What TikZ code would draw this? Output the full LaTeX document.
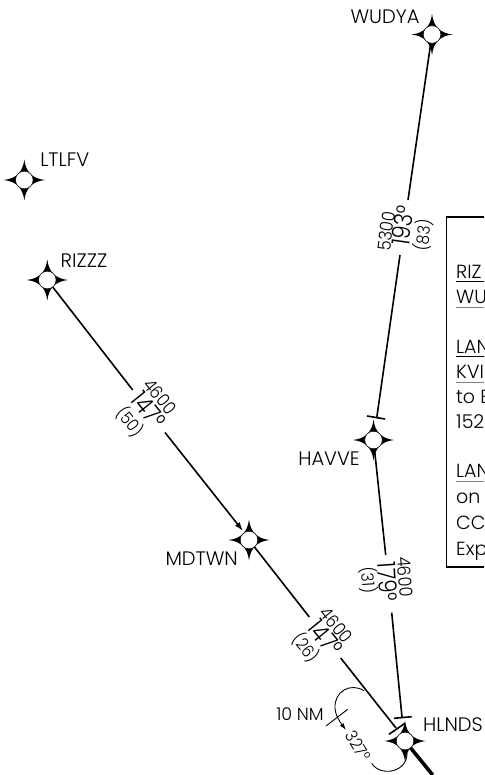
\documentclass[tikz,border=0pt]{standalone}
\usepackage{fontspec}
\setmainfont{Poppins}[UprightFont={* Light}]
\usetikzlibrary{arrows.meta}
\tikzset{
  x=1pt,y=-1pt,
  leg/.style={line width=1.6pt},
  tbar/.style={line width=1.6pt},
  wp/.style={circle,draw=black,line width=0.5pt,fill=white,minimum size=17.6pt,inner sep=0pt},
  fixname/.style={font=\fontsize{19.5}{19.5}\selectfont,inner sep=0pt},
  alt/.style={font=\fontsize{18}{18}\selectfont,inner sep=0pt,anchor=base,xscale=0.9},
  crs/.style={font=\fontsize{25}{25}\selectfont,inner sep=0pt,anchor=base,xscale=0.85},
  dist/.style={font=\fontsize{17}{17}\selectfont,inner sep=0pt,anchor=base,xscale=0.9},
  boxtext/.style={font=\fontsize{19}{19}\selectfont,inner sep=0pt,anchor=base west},
  uline/.style={line width=1pt},
  ugray/.style={line width=1pt,black!50},
}
\newcommand{\wpstar}[3]{%
  \fill[black,shift={(#2,#3)}] (20.5,0) .. controls (8,1.5) and (1.5,8) .. (0,20.5)
     .. controls (-1.5,8) and (-8,1.5) .. (-20.5,0)
     .. controls (-8,-1.5) and (-1.5,-8) .. (0,-20.5)
     .. controls (1.5,-8) and (8,-1.5) .. (20.5,0) -- cycle;
  \node[wp] (#1) at (#2,#3) {};}
\begin{document}
\begin{tikzpicture}
\useasboundingbox (0,0) rectangle (484,775);
\clip (0,0) rectangle (484,775);
% waypoints
\wpstar{wudya}{432}{34.5}
\wpstar{ltlfv}{24.3}{180}
\wpstar{rizzz}{47.3}{280}
\wpstar{mdtwn}{249}{540}
\wpstar{havve}{373.5}{440}
\wpstar{hlnds}{405}{741}
% names
\node[fixname] (nwudya) at (385,17) {WUDYA};
\node[fixname] (nltlfv) at (64.8,160) {LTLFV};
\node[fixname] (nrizzz) at (84,260.7) {RIZZZ};
\node[fixname] (nhavve) at (329,458.3) {HAVVE};
\node[fixname] (nmdtwn) at (201.7,558.3) {MDTWN};
\node[fixname] (nhlnds) at (453,725) {HLNDS};
% free ends
\coordinate (a1) at (408,200);
\coordinate (a2) at (400,255);
\coordinate (a3) at (376.7,418);
\coordinate (b1) at (385.7,555);
\coordinate (b2) at (391.7,612.7);
\coordinate (b3) at (402,717);
\coordinate (c1) at (132.7,390);
\coordinate (c2) at (165,432.5);
\coordinate (c3) at (243,531);
\coordinate (d1) at (309.3,617);
\coordinate (d2) at (340.7,658);
\coordinate (d3) at (396,728);
\coordinate (h0) at (432.7,775);
% legs
\draw[leg] (wudya) -- (a1);
\draw[leg] (a2) -- (a3);
\draw[leg] (havve) -- (b1);
\draw[leg] (b2) -- (b3);
\draw[leg] (rizzz) -- (c1);
\draw[leg,-{Latex[length=9pt,width=6pt]}] (c2) -- (c3);
\draw[leg] (mdtwn) -- (d1);
\draw[leg] (d2) -- (d3);
\draw[line width=3.6pt] (hlnds) -- (h0);
% T bars
\coordinate (t1a) at (367,416); \coordinate (t1b) at (385,419);
\coordinate (t2a) at (394,718.3); \coordinate (t2b) at (411.7,716.7);
\coordinate (t3a) at (389,734.3); \coordinate (t3b) at (405,723.3);
\draw[tbar] (t1a) -- (t1b);
\draw[tbar] (t2a) -- (t2b);
\draw[tbar] (t3a) -- (t3b);
% holding pattern
\coordinate (p1) at (364,690.7);
\coordinate (p2) at (346,730);
\coordinate (p3) at (371.7,763.3);
\coordinate (p4) at (407,752);
\draw[line width=0.9pt,-{Latex[length=7pt,width=4.5pt]}] (p1) .. controls (350,682) and (334,692) .. (335,708) .. controls (335.5,716) and (340,722) .. (p2);
\draw[line width=0.9pt] (p3) .. controls (380,777) and (408,773) .. (p4);
\coordinate (k1) at (326,726); \coordinate (k2) at (347.7,709.3);
\draw[line width=0.9pt] (k1) -- (k2);
\node[fixname,font=\fontsize{17.5}{17.5}\selectfont] (tnm) at (300,714.3) {10 NM};
\node[rotate=-58,dist] (t327) at (352.8,749.1) {327°};
% labels 193
\node[rotate=82,alt] (l1a) at (392.9,232) {5300};
\node[rotate=82,crs] (l1b) at (411.9,227) {193°};
\node[rotate=82,dist] (l1c) at (429.4,236) {(83)};
% labels 179
\node[rotate=-86,alt] (l2a) at (398.5,577) {4600};
\node[rotate=-86,crs] (l2b) at (378.5,582.5) {179°};
\node[rotate=-86,dist] (l2c) at (362,580.5) {(31)};
% labels 147 upper
\node[rotate=-51,alt] (l3a) at (155,400.8) {4600};
\node[rotate=-51,crs] (l3b) at (141.6,416) {147°};
\node[rotate=-51,dist] (l3c) at (125,425.8) {(50)};
% labels 147 lower
\node[rotate=-51,alt] (l4a) at (331,629.1) {4600};
\node[rotate=-51,crs] (l4b) at (318.3,643.3) {147°};
\node[rotate=-51,dist] (l4c) at (301,651.4) {(26)};
% box
\draw[line width=1.3pt] (490,217) -- (446.5,217) -- (446.5,567) -- (490,567);
\node[boxtext] (r1) at (456,278) {RIZ};
\node[boxtext] (r2) at (456,303) {WU};
\node[boxtext] (r3) at (456,353) {LAN};
\node[boxtext] (r4) at (456,378) {KVI};
\node[boxtext] (r5) at (456,403) {to E};
\node[boxtext] (r6) at (456,428.5) {152};
\node[boxtext] (r7) at (456,477.5) {LAN};
\node[boxtext] (r8) at (456,503.5) {on t};
\node[boxtext] (r9) at (456,529.5) {CC};
\node[boxtext] (r10) at (456,555.5) {Exp};
\draw[uline] (r1.base west) ++(0,3) -- ++(34,0);
\draw[ugray] (r2.base west) ++(0,4) -- ++(34,0);
\draw[uline] (r3.base west) ++(0,3) -- ++(34,0);
\draw[ugray] (r4.base west) ++(0,4) -- ++(34,0);
\draw[ugray] (r7.base west) ++(0,4) -- ++(34,0);
\end{tikzpicture}
\end{document}
